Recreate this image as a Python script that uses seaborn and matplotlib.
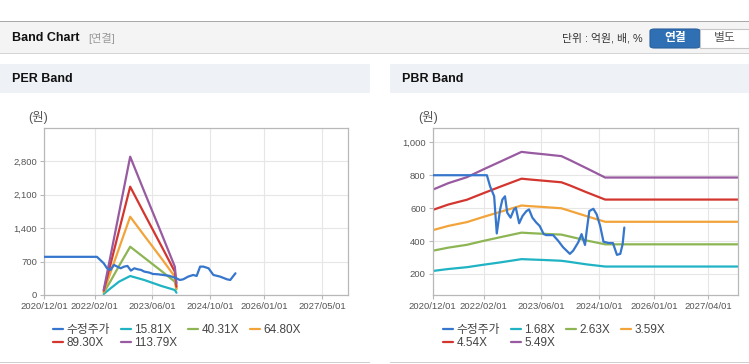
import pandas as pd
import matplotlib
matplotlib.use('Agg')
import matplotlib.pyplot as plt
import matplotlib.ticker as mticker
from matplotlib.patches import Rectangle, FancyBboxPatch
import seaborn as sns

W, H = 749, 364

# ---------------- PER band data ----------------
per_price_dates = ['2020-12-01', '2022-02-20', '2022-04-18', '2022-05-16', '2022-06-14', '2022-07-13',
                   '2022-08-10', '2022-09-08', '2022-10-07', '2022-11-04', '2022-12-03', '2023-01-01',
                   '2023-01-29', '2023-02-27', '2023-03-26', '2023-05-08', '2023-06-06', '2023-07-19',
                   '2023-09-01', '2023-10-27', '2023-12-22', '2024-01-19', '2024-02-17', '2024-03-29',
                   '2024-05-11', '2024-06-09', '2024-07-08', '2024-08-05', '2024-09-17', '2024-10-28',
                   '2024-12-24', '2025-02-19', '2025-03-19', '2025-05-02']
per_price = [800, 800, 665, 560, 525, 630, 595, 560, 595, 609, 511, 560, 539, 525, 490, 469, 441, 434,
             420, 399, 350, 315, 329, 385, 420, 399, 595, 595, 560, 420, 385, 329, 315, 455]

per_band_dates = ['2022-04-18', '2022-06-15', '2022-08-25', '2022-11-27', '2023-03-26',
                  '2023-08-17', '2023-12-08', '2023-12-22']
per_15_81 = [21, 140, 279, 398, 314, 189, 105, 48]
per_40_31 = [49, 293, 608, 1012, 782, 503, 279, 119]
per_64_80 = [70, 475, 978, 1641, 1243, 769, 384, 140]
per_89_30 = [91, 650, 1348, 2270, 1704, 1027, 489, 174]
per_113_79 = [105, 824, 1719, 2899, 2165, 1293, 594, 245]
per_labels = ['15.81X', '40.31X', '64.80X', '89.30X', '113.79X']

# ---------------- PBR band data ----------------
pbr_price_dates = ['2020-12-01', '2022-03-01', '2022-03-28', '2022-05-01', '2022-05-23', '2022-06-20',
                   '2022-07-09', '2022-07-31', '2022-08-19', '2022-09-16', '2022-10-14', '2022-10-30',
                   '2022-11-27', '2022-12-25', '2023-01-27', '2023-02-18', '2023-03-18', '2023-04-20',
                   '2023-05-18', '2023-06-21', '2023-07-13', '2023-09-08', '2023-10-20', '2023-12-01',
                   '2024-01-27', '2024-02-24', '2024-04-06', '2024-05-04', '2024-06-02', '2024-06-16',
                   '2024-07-08', '2024-08-11', '2024-09-08', '2024-10-07', '2024-11-04', '2024-12-16',
                   '2025-01-22', '2025-02-25', '2025-03-25', '2025-04-14', '2025-04-28']
pbr_price = [800, 800, 732, 672, 446, 592, 652, 672, 572, 542, 592, 602, 508, 552, 582, 592, 542, 512,
             492, 442, 436, 436, 402, 362, 322, 342, 392, 442, 376, 462, 582, 596, 562, 492, 396, 388,
             388, 316, 322, 382, 482]

pbr_band_dates = ['2020-12-01', '2021-04-12', '2021-09-14', '2022-02-01', '2022-06-20', '2022-12-17',
                  '2023-02-24', '2023-06-15', '2023-11-17', '2024-01-27', '2024-06-16', '2024-11-18',
                  '2027-12-06']
pbr_1_68 = [218, 230, 241, 256, 270, 290, 288, 285, 280, 273, 258, 245, 245]
pbr_2_63 = [341, 360, 377, 401, 423, 451, 448, 444, 439, 427, 403, 380, 380]
pbr_3_59 = [466, 492, 515, 547, 577, 616, 612, 607, 599, 583, 551, 517, 517]
pbr_4_54 = [589, 622, 651, 691, 730, 779, 774, 767, 757, 738, 696, 652, 652]
pbr_5_49 = [712, 752, 788, 836, 882, 942, 936, 928, 916, 892, 842, 786, 786]
pbr_labels = ['1.68X', '2.63X', '3.59X', '4.54X', '5.49X']

per_xticks = ['2020-12-01', '2022-02-01', '2023-06-01', '2024-10-01', '2026-01-01', '2027-05-01']
pbr_xticks = ['2020-12-01', '2022-02-01', '2023-06-01', '2024-10-01', '2026-01-01', '2027-04-01']

price_color = '#3676cc'
band_colors = ['#1fb3c3', '#8db554', '#f2a43a', '#d3362e', '#985aa0']

sns.set_theme(style='white')
plt.rcParams['font.family'] = ['Liberation Sans', 'Noto Sans CJK KR']

fig = plt.figure(figsize=(W / 100, H / 100), dpi=100)
fig.patch.set_facecolor('white')


def fx(x):
    return x / W


def fy(y):
    return 1 - y / H


def box(x0, y0, x1, y1, color, z=0, **kw):
    fig.add_artist(Rectangle((fx(x0), fy(y1)), (x1 - x0) / W, (y1 - y0) / H,
                             transform=fig.transFigure, facecolor=color, edgecolor='none', zorder=z, **kw))


# top header
box(0, 22, W, 53, '#f4f4f4')
box(0, 21, W, 22.3, '#a9a9a9', z=1)
box(0, 52.5, W, 53.8, '#d4d4d4', z=1)
fig.text(fx(12), fy(38), 'Band Chart', fontsize=9, fontweight='bold', color='#111111', va='center')
fig.text(fx(88), fy(38), '[연결]', fontsize=8, color='#9a9a9a', va='center')
fig.text(fx(643), fy(38.5), '단위 : 억원, 배, %', fontsize=7.8, color='#333333', va='center', ha='right')
fig.add_artist(FancyBboxPatch((fx(650), fy(48)), 50 / W, 19 / H, boxstyle='round,pad=0,rounding_size=0.006',
                              transform=fig.transFigure, facecolor='#2f6fb4', edgecolor='#2a5f9c', lw=0.8, zorder=2))
fig.add_artist(Rectangle((fx(700), fy(48)), 49 / W, 19 / H, transform=fig.transFigure,
                         facecolor='white', edgecolor='#c6c6c6', lw=0.8, zorder=2))
fig.text(fx(675), fy(38.5), '연결', fontsize=8.5, fontweight='bold', color='white', ha='center', va='center', zorder=3)
fig.text(fx(725), fy(38.5), '별도', fontsize=8.5, color='#555555', ha='center', va='center', zorder=3)

# panel headers
for x0, x1, title in [(0, 370, 'PER Band'), (390, W, 'PBR Band')]:
    box(x0, 64, x1, 93, '#eef2f7')
    box(x0, 63.5, x1, 64.3, '#dcdcdc', z=1)
    box(x0, 361.5, x1, 362.8, '#d0d0d0', z=1)
    fig.text(fx(x0 + 12), fy(79), title, fontsize=9, fontweight='bold', color='#111111', va='center')
    fig.text(fx(x0 + 28), fy(118), '(원)', fontsize=9, color='#555555', va='center')

x_start = pd.Timestamp('2020-12-01')
x_end = pd.Timestamp('2027-12-06')


def style_axes(ax, yticks, ylim, xticks):
    ax.set_xlim(x_start, x_end)
    ax.set_ylim(*ylim)
    ax.set_yticks(yticks)
    ax.yaxis.set_major_formatter(mticker.StrMethodFormatter('{x:,.0f}'))
    ax.set_xticks(pd.to_datetime(xticks))
    ax.set_xticklabels([d.replace('-', '/') for d in xticks])
    ax.grid(True, color='#e6e6e6', linewidth=0.8)
    ax.set_axisbelow(True)
    for s in ax.spines.values():
        s.set_visible(True)
        s.set_color('#b8b8b8')
        s.set_linewidth(0.9)
    ax.tick_params(axis='both', bottom=True, left=True, length=3, width=0.8, color='#b8b8b8',
                   labelsize=6.8, labelcolor='#555555', pad=2)
    ax.set_xlabel('')
    ax.set_ylabel('')


def draw_panel(ax, price_dates, price, band_dates, bands, labels):
    sns.lineplot(x=pd.to_datetime(price_dates), y=price, ax=ax, color=price_color, linewidth=1.6,
                 label='수정주가')
    for vals, lab, col in zip(bands, labels, band_colors):
        sns.lineplot(x=pd.to_datetime(band_dates), y=vals, ax=ax, color=col, linewidth=1.6, label=lab)
    # keep the price line above the bands like the original
    ax.lines[0].set_zorder(3)


ax1 = fig.add_axes([fx(44), fy(295), 304 / W, 167 / H])
draw_panel(ax1, per_price_dates, per_price, per_band_dates,
           [per_15_81, per_40_31, per_64_80, per_89_30, per_113_79], per_labels)
style_axes(ax1, [0, 700, 1400, 2100, 2800], (0, 3500), per_xticks)

ax2 = fig.add_axes([fx(432.7), fy(295), 305 / W, 167 / H])
draw_panel(ax2, pbr_price_dates, pbr_price, pbr_band_dates,
           [pbr_1_68, pbr_2_63, pbr_3_59, pbr_4_54, pbr_5_49], pbr_labels)
style_axes(ax2, [200, 400, 600, 800, 1000], (72, 1087), pbr_xticks)

# legends, row order like the original (4 per row)
for ax, left in [(ax1, 53), (ax2, 443)]:
    h, l = ax.get_legend_handles_labels()
    order = [0, 4, 1, 5, 2, 3]
    ax.legend([h[i] for i in order], [l[i] for i in order], ncol=4, frameon=False,
              loc='upper left', bbox_to_anchor=(fx(left), fy(324)), bbox_transform=fig.transFigure,
              fontsize=8.5, handlelength=0.85, handletextpad=0.3, columnspacing=0.9,
              labelspacing=0.1, borderpad=0, borderaxespad=0, labelcolor='#444444')

fig.savefig('out.png', dpi=100)
